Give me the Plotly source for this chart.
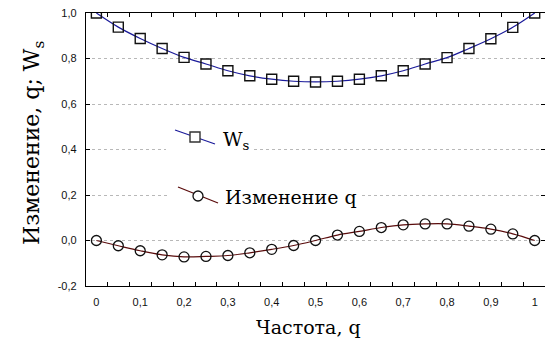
import plotly.graph_objects as go

# ---- data ----
freq_q = [0.0, 0.05, 0.10, 0.15, 0.20, 0.25, 0.30, 0.35, 0.40, 0.45, 0.50,
          0.55, 0.60, 0.65, 0.70, 0.75, 0.80, 0.85, 0.90, 0.95, 1.0]
ws_values = [1.000, 0.938, 0.888, 0.844, 0.805, 0.776, 0.746, 0.724, 0.709, 0.700, 0.697,
             0.700, 0.709, 0.724, 0.746, 0.776, 0.804, 0.844, 0.887, 0.937, 1.000]
dq_values = [0.000, -0.023, -0.045, -0.063, -0.072, -0.070, -0.066, -0.054, -0.039, -0.022, 0.000,
             0.024, 0.040, 0.057, 0.069, 0.073, 0.073, 0.063, 0.050, 0.029, 0.000]

x_tick_vals = [0.0, 0.1, 0.2, 0.3, 0.4, 0.5, 0.6, 0.7, 0.8, 0.9, 1.0]
x_tick_text = ["0", "0,1", "0,2", "0,3", "0,4", "0,5", "0,6", "0,7", "0,8", "0,9", "1"]
x_minor_vals = [0.025, 0.075, 0.125, 0.175, 0.225, 0.275, 0.325, 0.375, 0.425, 0.475,
                0.525, 0.575, 0.625, 0.675, 0.725, 0.775, 0.825, 0.875, 0.925, 0.975]
y_tick_vals = [-0.2, 0.0, 0.2, 0.4, 0.6, 0.8, 1.0]
y_tick_text = ["-0,2", "0,0", "0,2", "0,4", "0,6", "0,8", "1,0"]

name_ws = "W<sub>s</sub>"
name_dq = "Изменение q"
x_title = "Частота, q"
y_title = "Изменение, q; W<sub>s</sub>"

WS_COLOR = "#1a1a9a"
DQ_COLOR = "#5a0c0c"
SERIF = "DejaVu Serif"
SANS = "Liberation Sans"

W, H = 545, 341
L, R, T, B = 86, 545, 13, 286


def px(x):
    return (x - L) / (R - L)


def py(y):
    return (B - y) / (B - T)


fig = go.Figure()
fig.add_trace(go.Scatter(
    x=freq_q, y=ws_values, mode="lines+markers", name=name_ws,
    line=dict(color=WS_COLOR, width=1.2, shape="spline"),
    marker=dict(symbol="square-open", size=10, color="#111111", line=dict(width=1.4)),
    showlegend=False))
fig.add_trace(go.Scatter(
    x=freq_q, y=dq_values, mode="lines+markers", name=name_dq,
    line=dict(color=DQ_COLOR, width=1.2, shape="spline"),
    marker=dict(symbol="circle-open", size=10, color="#111111", line=dict(width=1.3)),
    showlegend=False))

shapes = []
# custom legend: white boxes hide the grid, diagonal samples as in the original
shapes.append(dict(type="rect", xref="paper", yref="paper", layer="above",
                   x0=px(166), x1=px(252), y0=py(152), y1=py(124),
                   fillcolor="white", line=dict(width=0)))
shapes.append(dict(type="rect", xref="paper", yref="paper", layer="above",
                   x0=px(168), x1=px(362), y0=py(208), y1=py(184),
                   fillcolor="white", line=dict(width=0)))
shapes.append(dict(type="line", xref="paper", yref="paper", layer="above",
                   x0=px(175), y0=py(130), x1=px(215), y1=py(144),
                   line=dict(color=WS_COLOR, width=1.2)))
shapes.append(dict(type="rect", xref="paper", yref="paper", layer="above",
                   x0=px(190), x1=px(200), y0=py(142), y1=py(132),
                   fillcolor="white", line=dict(color="#333333", width=1.4)))
shapes.append(dict(type="line", xref="paper", yref="paper", layer="above",
                   x0=px(178), y0=py(187), x1=px(218), y1=py(203),
                   line=dict(color=DQ_COLOR, width=1.2)))
shapes.append(dict(type="circle", xref="paper", yref="paper", layer="above",
                   x0=px(193), x1=px(203), y0=py(201), y1=py(191),
                   fillcolor="white", line=dict(color="#111111", width=1.3)))

annotations = [
    dict(xref="paper", yref="paper", x=px(221), y=py(140), xanchor="left", yanchor="middle",
         showarrow=False, text=name_ws, font=dict(family=SERIF, size=19, color="black")),
    dict(xref="paper", yref="paper", x=px(223), y=py(197), xanchor="left", yanchor="middle",
         showarrow=False, text=name_dq, font=dict(family=SERIF, size=19, color="black")),
    dict(xref="paper", yref="paper", x=px(308), y=py(327), xanchor="center", yanchor="middle",
         showarrow=False, text=x_title, font=dict(family=SERIF, size=19, color="black")),
    dict(xref="paper", yref="paper", x=px(33), y=py(143), xanchor="center", yanchor="middle",
         showarrow=False, textangle=-90, text=y_title,
         font=dict(family=SERIF, size=22, color="black")),
]

fig.update_layout(
    width=W, height=H,
    margin=dict(l=L, r=W - R, t=T, b=H - B, pad=0),
    paper_bgcolor="white", plot_bgcolor="white",
    shapes=shapes, annotations=annotations,
    showlegend=False,
)
fig.update_xaxes(
    range=[-0.0237, 1.0235], tickmode="array", tickvals=x_tick_vals, ticktext=x_tick_text,
    ticks="", showgrid=False, zeroline=False,
    showline=True, linecolor="black", linewidth=1.3, mirror="ticks",
    minor=dict(tickmode="array", tickvals=x_minor_vals, ticks="inside", ticklen=4,
               tickcolor="black", tickwidth=1, showgrid=False),
    tickfont=dict(family=SANS, size=11, color="#111111"), ticklabelstandoff=6,
)
fig.update_yaxes(
    range=[-0.2, 1.0], tickmode="array", tickvals=y_tick_vals, ticktext=y_tick_text,
    ticks="inside", ticklen=4, tickcolor="black", tickwidth=1,
    showgrid=True, gridcolor="#b8b8b8", griddash="dot", gridwidth=1, zeroline=False,
    showline=True, linecolor="black", linewidth=1.3, mirror="ticks",
    tickfont=dict(family=SANS, size=11, color="#111111"), ticklabelstandoff=6,
)

fig.write_html("out.html")
